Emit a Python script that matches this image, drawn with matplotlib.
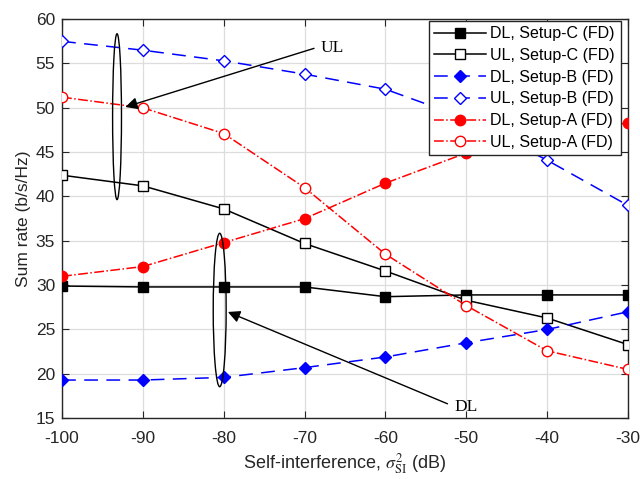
import matplotlib.pyplot as plt
from matplotlib.patches import Ellipse

plt.rcParams["font.family"] = ["Liberation Sans", "DejaVu Sans"]
plt.rcParams["mathtext.fontset"] = "stix"
plt.rcParams["axes.unicode_minus"] = False

si_db = [-100, -90, -80, -70, -60, -50, -40, -30]

dl_c = [29.9, 29.8, 29.8, 29.8, 28.7, 28.9, 28.9, 28.9]
ul_c = [42.4, 41.2, 38.6, 34.7, 31.6, 28.3, 26.3, 23.3]
dl_b = [19.3, 19.3, 19.6, 20.7, 21.9, 23.5, 25.0, 27.0]
ul_b = [57.5, 56.5, 55.3, 53.8, 52.1, 48.8, 44.1, 39.0]
dl_a = [31.0, 32.1, 34.8, 37.5, 41.5, 44.9, 47.0, 48.3]
ul_a = [51.2, 50.0, 47.1, 41.0, 33.5, 27.7, 22.6, 20.5]


def main() -> None:
    fig = plt.figure(figsize=(6.4, 4.79), dpi=100)
    ax = fig.add_axes([0.097, 0.127, 0.884, 0.833])

    ms = 6.5
    dash = (0, (9, 5.5))
    ax.plot(si_db, dl_c, "-", color="k", marker="s", ms=ms, mfc="k", lw=1.1,
            label="DL, Setup-C (FD)", zorder=3)
    ax.plot(si_db, ul_c, "-", color="k", marker="s", ms=ms, mfc="white", lw=1.1,
            label="UL, Setup-C (FD)", zorder=3)
    ax.plot(si_db, dl_b, color="b", ls=dash, marker="D", ms=ms, mfc="b", lw=1.1,
            label="DL, Setup-B (FD)", zorder=3)
    ax.plot(si_db, ul_b, color="b", ls=dash, marker="D", ms=ms, mfc="white",
            lw=1.1, label="UL, Setup-B (FD)", zorder=3)
    ax.plot(si_db, dl_a, color="r", ls="-.", marker="o", ms=ms + 1, mfc="r", lw=1.1,
            label="DL, Setup-A (FD)", zorder=3)
    ax.plot(si_db, ul_a, color="r", ls="-.", marker="o", ms=ms + 1, mfc="white",
            lw=1.1, label="UL, Setup-A (FD)", zorder=3)

    # annotations
    ax.add_patch(Ellipse((-93.2, 49.0), 1.1, 18.7, fill=False, ec="k", lw=1.0, zorder=4))
    ax.add_patch(Ellipse((-80.5, 27.2), 1.6, 17.3, fill=False, ec="k", lw=1.0, zorder=4))
    ax.annotate("", xy=(-92.5, 50.0), xytext=(-68.5, 56.8),
                arrowprops=dict(arrowstyle="-|>", color="k", lw=1.0,
                                mutation_scale=18), zorder=5)
    ax.annotate("", xy=(-79.8, 27.1), xytext=(-52.0, 16.5),
                arrowprops=dict(arrowstyle="-|>", color="k", lw=1.0,
                                mutation_scale=18), zorder=5)
    ax.text(-68.0, 56.8, "UL", family="Liberation Serif", fontsize=12.5,
            va="center", ha="left")
    ax.text(-51.5, 16.3, "DL", family="Liberation Serif", fontsize=12.5,
            va="center", ha="left")

    ax.set_xlim(-100, -30)
    ax.set_ylim(15, 60)
    ax.set_xticks(si_db)
    ax.set_yticks(range(15, 61, 5))
    ax.tick_params(direction="in", top=True, right=True, labelsize=12.5, length=5,
                   colors="#262626")
    ax.tick_params(axis="x", pad=9)
    ax.tick_params(axis="y", pad=5)
    for s in ax.spines.values():
        s.set_color("#262626")
        s.set_linewidth(1.0)
    ax.grid(True, color="#dddddd", lw=0.9)
    ax.set_axisbelow(True)
    ax.set_xlabel(r"Self-interference, $\sigma_{\mathrm{SI}}^{2}$ (dB)", fontsize=13,
                  labelpad=4, color="#262626")
    ax.set_ylabel("Sum rate (b/s/Hz)", fontsize=12.5, labelpad=3, color="#262626")

    leg = ax.legend(loc="upper right", bbox_to_anchor=(0.99, 1.0), fontsize=11.5,
                    fancybox=False, framealpha=1, edgecolor="#262626",
                    handlelength=3.2, borderaxespad=0.1, labelspacing=0.42,
                    handletextpad=0.3, borderpad=0.35)
    leg.get_frame().set_linewidth(1.0)
    leg.set_zorder(10)

    fig.savefig("out.png", dpi=100)


if __name__ == "__main__":
    main()
